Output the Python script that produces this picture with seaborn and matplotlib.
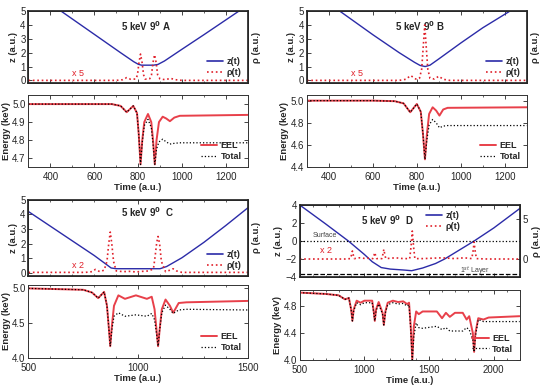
import matplotlib
matplotlib.use("Agg")
import matplotlib.pyplot as plt
from matplotlib.ticker import MultipleLocator
from matplotlib.lines import Line2D
import seaborn as sns

# ---- panel A ----
a_z_t = [300, 449, 600, 720, 780, 800, 815, 870, 890, 920, 1000, 1100, 1259, 1300]
a_z = [6.65, 5.0, 3.33, 2.0, 1.35, 1.17, 1.1, 1.1, 1.15, 1.4, 2.25, 3.3, 5.0, 5.43]
a_rho_t = [300, 700, 730, 748, 766, 790, 797, 804, 811, 818, 825, 832, 843, 853, 861, 868, 875, 882, 889, 900,
           925, 947, 970, 1000, 1300]
a_rho = [0, 0, 0.05, 0.2, 0.08, 0.1, 0.4, 1.3, 1.9, 1.3, 0.4, 0.1, 0.08, 0.12, 0.4, 1.3, 1.85, 1.3, 0.4, 0.1,
         0.05, 0.15, 0.05, 0, 0]
a_e_t = [300, 680, 720, 748, 778, 795, 803, 811, 819, 828, 845, 860, 868, 876, 884, 895, 912, 928, 945, 965, 990, 1300]
a_eel = [5.0, 5.0, 4.99, 4.955, 4.99, 4.95, 4.83, 4.665, 4.8, 4.9, 4.945, 4.9, 4.8, 4.665, 4.8, 4.9, 4.93, 4.92,
         4.905, 4.925, 4.935, 4.94]
a_total = [5.0, 5.0, 4.99, 4.955, 4.99, 4.95, 4.83, 4.665, 4.79, 4.88, 4.915, 4.87, 4.78, 4.665, 4.75, 4.79, 4.805,
           4.79, 4.778, 4.782, 4.785, 4.785]

# ---- panel B ----
b_z_t = [300, 450, 600, 720, 790, 815, 838, 860, 900, 1000, 1100, 1223, 1300]
b_z = [6.7, 5.0, 3.3, 2.0, 1.3, 1.08, 1.0, 1.1, 1.55, 2.7, 3.8, 5.0, 5.8]
b_rho_t = [300, 720, 750, 772, 795, 812, 822, 830, 836, 842, 850, 860, 880, 900, 920, 950, 1300]
b_rho = [0, 0, 0.08, 0.35, 0.1, 0.15, 0.8, 2.6, 4.0, 2.6, 0.8, 0.15, 0.1, 0.3, 0.08, 0, 0]
b_e_t = [300, 600, 700, 740, 770, 800, 818, 828, 837, 846, 856, 872, 888, 903, 920, 940, 1300]
b_eel = [5.0, 5.0, 4.995, 4.975, 4.895, 4.97, 4.9, 4.7, 4.47, 4.7, 4.88, 4.94, 4.91, 4.865, 4.92, 4.935, 4.94]
b_total = [5.0, 5.0, 4.995, 4.975, 4.895, 4.97, 4.9, 4.7, 4.47, 4.65, 4.78, 4.83, 4.8, 4.755, 4.77, 4.775, 4.775]

# ---- panel C ----
c_z_t = [500, 600, 700, 800, 850, 877, 900, 1100, 1130, 1200, 1300, 1400, 1500]
c_z = [4.2, 3.2, 2.2, 1.2, 0.65, 0.35, 0.3, 0.3, 0.45, 1.05, 2.1, 3.25, 4.45]
c_rho_t = [500, 760, 790, 805, 825, 845, 858, 866, 873, 880, 888, 900, 930, 960, 990, 1020, 1050, 1070, 1078, 1085,
           1091, 1098, 1106, 1125, 1145, 1159, 1175, 1200, 1500]
c_rho = [0.05, 0.05, 0.1, 0.25, 0.1, 0.2, 0.8, 2.0, 2.8, 2.0, 0.8, 0.15, 0.1, 0.12, 0.08, 0.12, 0.15, 0.3, 1.2, 2.1,
         2.5, 2.0, 0.8, 0.1, 0.2, 0.3, 0.15, 0.05, 0.05]
c_e_t = [500, 750, 790, 818, 845, 858, 866, 873, 880, 890, 910, 940, 990, 1040, 1062, 1075, 1084, 1091, 1098, 1108,
         1125, 1145, 1160, 1185, 1220, 1500]
c_eel = [5.0, 4.98, 4.94, 4.86, 4.95, 4.75, 4.45, 4.17, 4.45, 4.75, 4.9, 4.85, 4.9, 4.85, 4.88, 4.7, 4.4, 4.17, 4.4,
         4.7, 4.84, 4.75, 4.65, 4.79, 4.8, 4.82]
c_total = [5.0, 4.98, 4.94, 4.86, 4.95, 4.75, 4.45, 4.17, 4.4, 4.6, 4.65, 4.6, 4.62, 4.6, 4.64, 4.55, 4.35, 4.17, 4.4,
           4.65, 4.76, 4.7, 4.64, 4.69, 4.7, 4.69]

# ---- panel D ----
d_z_t = [500, 700, 876, 1000, 1060, 1130, 1200, 1300, 1365, 1450, 1550, 1620, 1700, 1848, 2000, 2200]
d_z = [4.0, 1.9, 0.0, -1.5, -2.3, -2.95, -3.12, -3.22, -3.3, -3.0, -2.5, -2.0, -1.3, 0.0, 1.45, 3.6]
d_rho_t = [500, 850, 892, 900, 907, 914, 922, 960, 1000, 1040, 1065, 1073, 1080, 1087, 1095, 1135, 1143, 1150, 1157,
           1165, 1240, 1300, 1350, 1360, 1370, 1380, 1390, 1450, 1600, 1700, 1770, 1830, 1840, 1848, 1856, 1866,
           1950, 2200]
d_rho = [0, 0, 0.05, 0.5, 1.0, 0.5, 0.05, 0.15, 0.08, 0.1, 0.05, 0.4, 0.8, 0.4, 0.05, 0.05, 0.6, 1.2, 0.6, 0.05,
         0.15, 0.05, 0.05, 1.5, 3.5, 1.5, 0.05, 0.05, 0.15, 0.05, 0.15, 0.05, 1.0, 2.1, 1.0, 0.05, 0, 0]
d_e_t = [500, 700, 800, 850, 880, 897, 907, 917, 940, 970, 1000, 1060, 1072, 1080, 1090, 1110, 1140, 1150, 1162, 1180,
         1220, 1260, 1300, 1330, 1345, 1358, 1370, 1382, 1400, 1420, 1450, 1560, 1600, 1630, 1660, 1700, 1760, 1790,
         1810, 1838, 1848, 1858, 1880, 1920, 1960, 2200]
d_eel = [5.0, 4.98, 4.96, 4.9, 4.92, 4.75, 4.58, 4.75, 4.88, 4.85, 4.88, 4.88, 4.72, 4.58, 4.75, 4.86, 4.7, 4.52,
         4.72, 4.85, 4.88, 4.86, 4.87, 4.83, 4.85, 4.5, 4.0, 4.5, 4.72, 4.68, 4.72, 4.72, 4.62, 4.7, 4.64, 4.7, 4.7,
         4.6, 4.65, 4.4, 4.12, 4.4, 4.62, 4.6, 4.63, 4.65]
d_total = [5.0, 4.98, 4.96, 4.9, 4.92, 4.75, 4.58, 4.73, 4.85, 4.82, 4.85, 4.85, 4.7, 4.58, 4.73, 4.83, 4.68, 4.52,
           4.7, 4.82, 4.85, 4.83, 4.84, 4.8, 4.82, 4.45, 4.0, 4.35, 4.55, 4.48, 4.47, 4.5, 4.45, 4.48, 4.43, 4.43,
           4.43, 4.48, 4.45, 4.3, 4.12, 4.35, 4.6, 4.57, 4.57, 4.57]

BLUE = "#2b2ba8"
RED = "#e0202a"
EEL_RED = "#e8404a"
BOLD = {"weight": "bold", "size": 6.8}

sns.set_theme(style="ticks")
plt.rcParams["font.family"] = ["Liberation Sans", "DejaVu Sans"]
plt.rcParams["mathtext.fontset"] = "dejavusans"


def style_axes(ax, xlim, ylim):
    ax.set_xlim(*xlim)
    ax.set_ylim(*ylim)
    ax.tick_params(direction="in", top=True, right=True, labelsize=7, length=3, width=0.6, pad=2)
    ax.tick_params(which="minor", direction="in", top=True, right=True, length=1.5, width=0.5)
    for s in ax.spines.values():
        s.set_linewidth(0.7)
        s.set_color("#333333")


def top_panel(rect, t_z, z, t_rho, rho, xlim, ylim, title, title_xy, scale_txt, scale_xy,
              leg_loc, rho_lim=None, rho_ticks=False, xmajor=200, yticks=range(6)):
    ax = fig.add_axes(rect)
    sns.lineplot(x=t_z, y=z, ax=ax, color=BLUE, linewidth=1.0, estimator=None, sort=False)
    style_axes(ax, xlim, ylim)
    ax.set_yticks(list(yticks))
    ax.xaxis.set_major_locator(MultipleLocator(xmajor))
    ax.xaxis.set_minor_locator(MultipleLocator(100))
    ax.tick_params(labelbottom=False)
    ax.set_xlabel("")
    ax.set_ylabel("z (a.u.)", fontdict=BOLD, labelpad=2)

    axr = ax.twinx()
    sns.lineplot(x=t_rho, y=rho, ax=axr, color=RED, linewidth=1.2, linestyle=":", estimator=None, sort=False)
    axr.set_ylim(*(rho_lim if rho_lim else ylim))
    axr.tick_params(direction="in", labelsize=7, length=3, width=0.6, pad=2)
    if rho_ticks:
        axr.set_yticks([0, 5])
    else:
        axr.set_yticks([])
    axr.set_ylabel("ρ (a.u.)", fontdict=BOLD, labelpad=3)

    ax.text(title_xy[0], title_xy[1], title, transform=ax.transAxes, fontsize=7, fontweight="bold")
    ax.text(scale_xy[0], scale_xy[1], scale_txt, transform=ax.transAxes, fontsize=6.5, color=RED)
    handles = [Line2D([], [], color=BLUE, lw=1.2), Line2D([], [], color=RED, lw=1.2, ls=":")]
    ax.legend(handles, ["z(t)", "ρ(t)"], loc=leg_loc, frameon=False, prop={"weight": "bold", "size": 6.5},
              handlelength=1.8, handletextpad=0.4, labelspacing=0.2, borderaxespad=0.3)
    return ax


def bottom_panel(rect, t, eel, total, xlim, ylim, yticks, xmajor):
    ax = fig.add_axes(rect)
    sns.lineplot(x=t, y=eel, ax=ax, color=EEL_RED, linewidth=1.4, estimator=None, sort=False, label="EEL")
    sns.lineplot(x=t, y=total, ax=ax, color="black", linewidth=0.9, linestyle=":", estimator=None, sort=False,
                 label="Total")
    style_axes(ax, xlim, ylim)
    ax.tick_params(axis="x", pad=3.5)
    ax.set_yticks(yticks)
    ax.xaxis.set_major_locator(MultipleLocator(xmajor))
    ax.xaxis.set_minor_locator(MultipleLocator(100))
    ax.set_xlabel("Time (a.u.)", fontdict=BOLD, labelpad=1)
    ax.set_ylabel("Energy (keV)", fontdict=BOLD, labelpad=1)
    ax.legend(loc="lower right", frameon=False, prop={"weight": "bold", "size": 6.5},
              handlelength=1.8, handletextpad=0.4, labelspacing=0.2, borderaxespad=0.3)
    return ax


fig = plt.figure(figsize=(5.47, 3.85), dpi=100)

# A
top_panel([0.052, 0.784, 0.401, 0.187], a_z_t, a_z, a_rho_t, a_rho, (300, 1300), (-0.2, 5.0),
          r"5 keV 9$^{\mathbf{0}}$ A", (0.42, 0.72), "x 5", (0.2, 0.1), "lower right")
bottom_panel([0.052, 0.566, 0.401, 0.187], a_e_t, a_eel, a_total, (300, 1300), (4.65, 5.05),
             [4.7, 4.8, 4.9, 5.0], 200)

# B
top_panel([0.561, 0.784, 0.402, 0.187], b_z_t, b_z, b_rho_t, b_rho, (300, 1300), (-0.2, 5.0),
          r"5 keV 9$^{\mathbf{0}}$ B", (0.4, 0.72), "x 5", (0.2, 0.1), "lower right")
bottom_panel([0.561, 0.566, 0.402, 0.187], b_e_t, b_eel, b_total, (300, 1300), (4.4, 5.05),
             [4.4, 4.6, 4.8, 5.0], 200)

# C
top_panel([0.052, 0.283, 0.401, 0.198], c_z_t, c_z, c_rho_t, c_rho, (500, 1500), (-0.2, 5.0),
          r"5 keV 9$^{\mathbf{0}}$  C", (0.42, 0.78), "x 2", (0.2, 0.1), "lower right", xmajor=500)
bottom_panel([0.052, 0.070, 0.401, 0.190], c_e_t, c_eel, c_total, (500, 1500), (4.0, 5.05),
             [4.0, 4.5, 5.0], 500)

# D
axd = top_panel([0.548, 0.2805, 0.402, 0.187], d_z_t, d_z, d_rho_t, d_rho, (500, 2200), (-4, 4),
                r"5 keV 9$^{\mathbf{0}}$  D", (0.28, 0.72), "x 2", (0.09, 0.33), "upper right",
                rho_lim=(-2.25, 6.75), rho_ticks=True, xmajor=500, yticks=[-4, -2, 0, 2, 4])
axd.legend_.set_bbox_to_anchor((0.76, 1.0))
axd.axhline(0, color="black", linestyle=":", linewidth=0.9)
axd.axhline(-3.65, color="black", linestyle="--", linewidth=0.9)
axd.text(0.06, 0.55, "Surface", transform=axd.transAxes, fontsize=5, color="#444444")
axd.text(0.73, 0.05, r"1$^{st}$ Layer", transform=axd.transAxes, fontsize=5, color="#444444")
bottom_panel([0.548, 0.065, 0.402, 0.182], d_e_t, d_eel, d_total, (500, 2200), (4.0, 5.04),
             [4.0, 4.4, 4.8], 500)

fig.savefig("out.png", dpi=100)
